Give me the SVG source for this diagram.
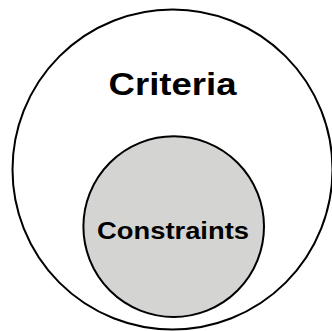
<svg xmlns="http://www.w3.org/2000/svg" width="332" height="331" viewBox="0 0 332 331">
<style>
.c{stroke:#000;stroke-width:2}
.t{font-family:"Liberation Sans",Arial,sans-serif;font-weight:bold;fill:#000;text-anchor:middle}
</style>
<rect width="332" height="331" fill="#fff"/>
<g id="criteria">
<circle class="c" cx="172.5" cy="169.5" r="160" fill="#fff"/>
<text class="t" x="172.5" y="95" font-size="30.5" textLength="128" lengthAdjust="spacingAndGlyphs">Criteria</text>
</g>
<g id="constraints">
<circle class="c" cx="173.7" cy="226.6" r="90.3" fill="#d4d5d2"/>
<text class="t" x="173" y="239" font-size="24.4" textLength="152" lengthAdjust="spacingAndGlyphs">Constraints</text>
</g>
<g id="connectors"/>
</svg>
